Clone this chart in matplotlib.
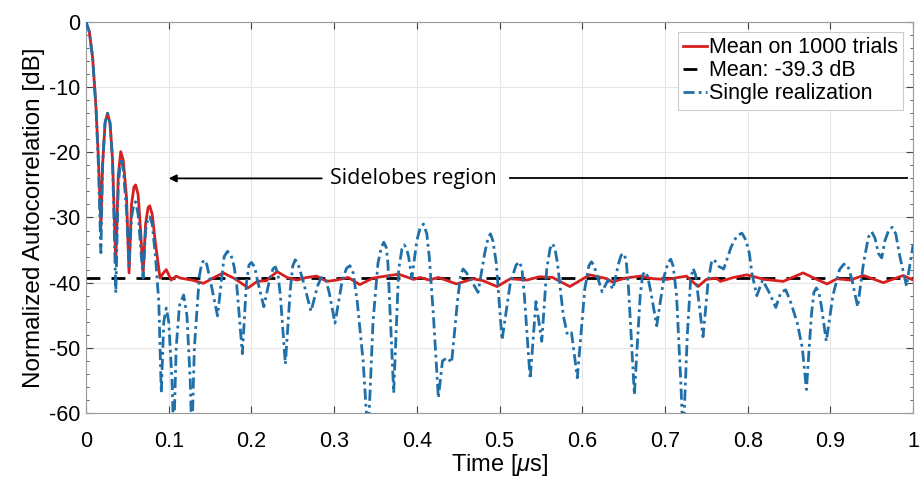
import matplotlib

matplotlib.use("Agg")
import matplotlib.pyplot as plt  # noqa: E402

plt.rcParams.update({
    "font.family": ["Liberation Sans", "DejaVu Sans"],
    "mathtext.fontset": "custom",
    "mathtext.it": "Liberation Sans:italic",
    "mathtext.rm": "Liberation Sans",
    "axes.unicode_minus": False,
})

MEAN_DB = -39.3

# single realization (time in us, level in dB)
single_t = [
    0.000, 0.004, 0.008, 0.012, 0.015, 0.018, 0.020, 0.023, 0.026, 0.029,
    0.032, 0.036, 0.039, 0.042, 0.045, 0.049, 0.052, 0.055, 0.058, 0.060,
    0.063, 0.069, 0.072, 0.075, 0.077, 0.080, 0.084, 0.088, 0.091, 0.094,
    0.097, 0.100, 0.104, 0.106, 0.109, 0.113, 0.118, 0.122, 0.126, 0.128,
    0.131, 0.137, 0.140, 0.143, 0.146, 0.150, 0.159, 0.164, 0.167, 0.171,
    0.175, 0.179, 0.182, 0.189, 0.194, 0.197, 0.200, 0.204, 0.207, 0.215,
    0.222, 0.226, 0.229, 0.232, 0.235, 0.241, 0.247, 0.250, 0.253, 0.256,
    0.262, 0.272, 0.280, 0.284, 0.287, 0.290, 0.294, 0.301, 0.310, 0.315,
    0.319, 0.323, 0.328, 0.335, 0.341, 0.347, 0.353, 0.357, 0.360, 0.363,
    0.365, 0.372, 0.378, 0.382, 0.385, 0.388, 0.390, 0.394, 0.400, 0.404,
    0.408, 0.412, 0.415, 0.420, 0.426, 0.431, 0.437, 0.442, 0.449, 0.453,
    0.456, 0.460, 0.465, 0.474, 0.482, 0.486, 0.489, 0.492, 0.496, 0.503,
    0.513, 0.520, 0.524, 0.527, 0.530, 0.537, 0.544, 0.551, 0.557, 0.561,
    0.564, 0.567, 0.570, 0.577, 0.582, 0.587, 0.594, 0.603, 0.608, 0.611,
    0.614, 0.618, 0.624, 0.631, 0.637, 0.644, 0.647, 0.650, 0.653, 0.656,
    0.663, 0.670, 0.673, 0.676, 0.679, 0.683, 0.690, 0.699, 0.704, 0.707,
    0.710, 0.714, 0.719, 0.722, 0.727, 0.731, 0.734, 0.737, 0.740, 0.746,
    0.752, 0.756, 0.759, 0.765, 0.771, 0.780, 0.787, 0.793, 0.798, 0.802,
    0.805, 0.811, 0.818, 0.826, 0.834, 0.840, 0.846, 0.852, 0.860, 0.866,
    0.871, 0.877, 0.880, 0.883, 0.886, 0.889, 0.895, 0.903, 0.911, 0.916,
    0.919, 0.922, 0.926, 0.933, 0.940, 0.946, 0.950, 0.954, 0.958, 0.962,
    0.966, 0.971, 0.975, 0.979, 0.984, 0.992, 1.000,
]
single_db = [
    0.0, -1.5, -5.5, -13.0, -22.0, -35.4, -22.0, -15.5, -14.0, -15.5,
    -21.0, -41.6, -25.0, -20.9, -22.5, -29.0, -37.5, -30.0, -27.8, -27.6,
    -29.5, -39.3, -32.0, -30.0, -29.9, -31.0, -36.0, -43.0, -56.9, -46.0,
    -43.9, -46.0, -55.0, -64.0, -50.0, -43.5, -41.9, -45.0, -55.0, -64.0,
    -50.0, -39.0, -37.0, -36.5, -37.2, -39.5, -45.1, -39.5, -36.0, -35.2,
    -35.6, -37.5, -40.0, -50.9, -40.0, -37.3, -36.9, -37.6, -39.5, -43.7,
    -39.5, -37.9, -37.6, -38.6, -42.0, -52.5, -41.0, -37.4, -36.5, -37.0,
    -39.5, -44.4, -40.5, -39.3, -39.1, -39.6, -41.5, -46.2, -39.5, -37.8,
    -37.4, -38.5, -43.0, -52.0, -64.0, -46.0, -37.0, -34.6, -33.8, -34.6,
    -37.0, -56.9, -38.0, -34.8, -34.2, -35.0, -36.0, -39.3, -33.5, -31.6,
    -31.0, -32.5, -36.0, -45.0, -57.7, -52.0, -51.5, -52.3, -43.0, -38.7,
    -37.9, -38.5, -39.5, -41.5, -35.5, -33.2, -32.5, -33.6, -37.0, -48.8,
    -40.0, -37.3, -36.8, -37.8, -42.0, -54.8, -42.9, -49.0, -38.0, -34.8,
    -34.0, -34.8, -37.0, -45.0, -48.0, -47.7, -54.6, -41.0, -37.4, -36.8,
    -37.3, -39.0, -41.4, -39.6, -41.0, -37.0, -35.8, -35.5, -36.5, -41.0,
    -57.2, -42.0, -38.8, -38.3, -39.0, -41.5, -46.6, -39.0, -36.8, -36.4,
    -37.5, -42.0, -55.0, -64.0, -48.0, -39.5, -37.8, -38.8, -42.0, -48.3,
    -40.0, -37.0, -36.4, -37.5, -37.9, -34.5, -32.8, -32.4, -33.5, -35.5,
    -38.5, -42.0, -39.6, -41.5, -43.8, -41.5, -41.1, -43.0, -46.2, -50.0,
    -56.4, -45.0, -41.5, -40.8, -41.5, -43.5, -49.0, -42.0, -38.0, -37.2,
    -37.1, -37.8, -39.5, -43.7, -37.0, -33.0, -32.2, -33.2, -35.5, -36.2,
    -33.5, -31.8, -31.5, -32.5, -36.0, -40.5, -34.2,
]

# mean over 1000 trials
mean_t = [
    0.000, 0.004, 0.008, 0.012, 0.015, 0.018, 0.020, 0.023, 0.026, 0.029,
    0.032, 0.036, 0.039, 0.042, 0.045, 0.049, 0.052, 0.055, 0.058, 0.060,
    0.063, 0.066, 0.069, 0.072, 0.075, 0.077, 0.080, 0.084, 0.0895, 0.093,
    0.097, 0.100, 0.103, 0.109, 0.114, 0.128, 0.142, 0.155, 0.166, 0.180,
    0.196, 0.207, 0.218, 0.231, 0.243, 0.255, 0.267, 0.279, 0.291, 0.303,
    0.317, 0.331, 0.347, 0.362, 0.378, 0.396, 0.404, 0.415, 0.426, 0.448,
    0.468, 0.480, 0.497, 0.513, 0.533, 0.548, 0.564, 0.585, 0.609, 0.630,
    0.636, 0.652, 0.670, 0.686, 0.702, 0.726, 0.740, 0.750, 0.762, 0.767,
    0.783, 0.799, 0.820, 0.843, 0.867, 0.887, 0.896, 0.908, 0.924, 0.940,
    0.964, 0.988, 1.000,
]
mean_db = [
    0.0, -1.5, -5.5, -13.0, -21.0, -31.5, -22.0, -15.5, -14.0, -15.5,
    -21.0, -37.0, -23.5, -19.9, -21.2, -27.0, -38.5, -28.0, -25.3, -25.0,
    -26.5, -32.0, -38.8, -31.0, -28.5, -28.2, -29.5, -34.0, -39.3, -38.6,
    -38.0, -38.8, -39.6, -39.0, -39.3, -39.6, -40.1, -39.2, -38.5, -39.4,
    -40.8, -39.8, -39.7, -38.3, -39.2, -39.6, -39.2, -39.0, -39.8, -39.6,
    -39.2, -40.3, -39.3, -39.0, -38.7, -39.5, -39.2, -39.6, -39.2, -40.2,
    -39.4, -39.7, -40.6, -39.4, -39.6, -39.1, -39.2, -40.6, -38.8, -39.4,
    -39.9, -39.3, -39.0, -39.4, -39.5, -39.0, -40.6, -39.5, -39.3, -39.8,
    -39.2, -38.8, -39.5, -39.8, -38.5, -39.7, -40.2, -39.4, -39.6, -38.9,
    -40.0, -38.9, -39.6,
]

fig = plt.figure(figsize=(9.19, 4.78), dpi=100)
ax = fig.add_axes([0.0936, 0.136, 0.900, 0.818])

ax.plot(mean_t, mean_db, color="#d62020", lw=2.0, label="Mean on 1000 trials", zorder=3)
ax.axhline(MEAN_DB, color="black", lw=2.0, ls=(0, (5, 4)),
           label="Mean: -39.3 dB", zorder=2)
ax.plot(single_t, single_db, color="#1f6fa8", lw=2.0, ls=(0, (4, 1.5, 1, 1.5)),
        label="Single realization", zorder=4)

ax.set_xlim(0, 1)
ax.set_ylim(-60, 0)
ax.set_xticks([i / 10 for i in range(11)])
ax.set_xticklabels(["0", "0.1", "0.2", "0.3", "0.4", "0.5", "0.6", "0.7",
                    "0.8", "0.9", "1"])
ax.set_yticks(range(-60, 1, 10))
ax.set_yticks(range(-60, 1, 2), minor=True)
ax.tick_params(which="both", direction="in", top=True, right=True,
               labelsize=15.5, colors="#444444", labelcolor="black")
ax.tick_params(which="major", length=5)
ax.tick_params(which="minor", length=2.5)
ax.tick_params(axis="x", pad=13)
ax.tick_params(axis="y", pad=4)
ax.grid(True, which="major", color="#e6e6e6", lw=0.8)
for s in ax.spines.values():
    s.set_color("#999999")
    s.set_linewidth(0.8)

ax.set_xlabel(r"Time [$\mu$s]", fontsize=17, labelpad=0)
ax.set_ylabel("Normalized Autocorrelation [dB]", fontsize=17.5, labelpad=3)

# sidelobes region marker
ax.annotate("", xy=(0.1, -24), xytext=(0.285, -24),
            arrowprops=dict(arrowstyle="-|>", color="black", lw=1.3,
                            mutation_scale=11, shrinkA=0, shrinkB=0))
ax.plot([0.513, 0.993], [-24, -24], color="black", lw=1.3)
ax.text(0.396, -24, "Sidelobes region", ha="center", va="center",
        fontsize=15.5, family=["Open Sans", "DejaVu Sans"])

leg = ax.legend(loc="upper right", fontsize=15.5, handlelength=1.1,
                handletextpad=0.1, borderpad=0.25, labelspacing=0.1,
                borderaxespad=0.45, fancybox=False, framealpha=1)
leg.get_frame().set_edgecolor("#cccccc")
leg.get_frame().set_linewidth(0.8)

fig.savefig("out.png", dpi=100)
